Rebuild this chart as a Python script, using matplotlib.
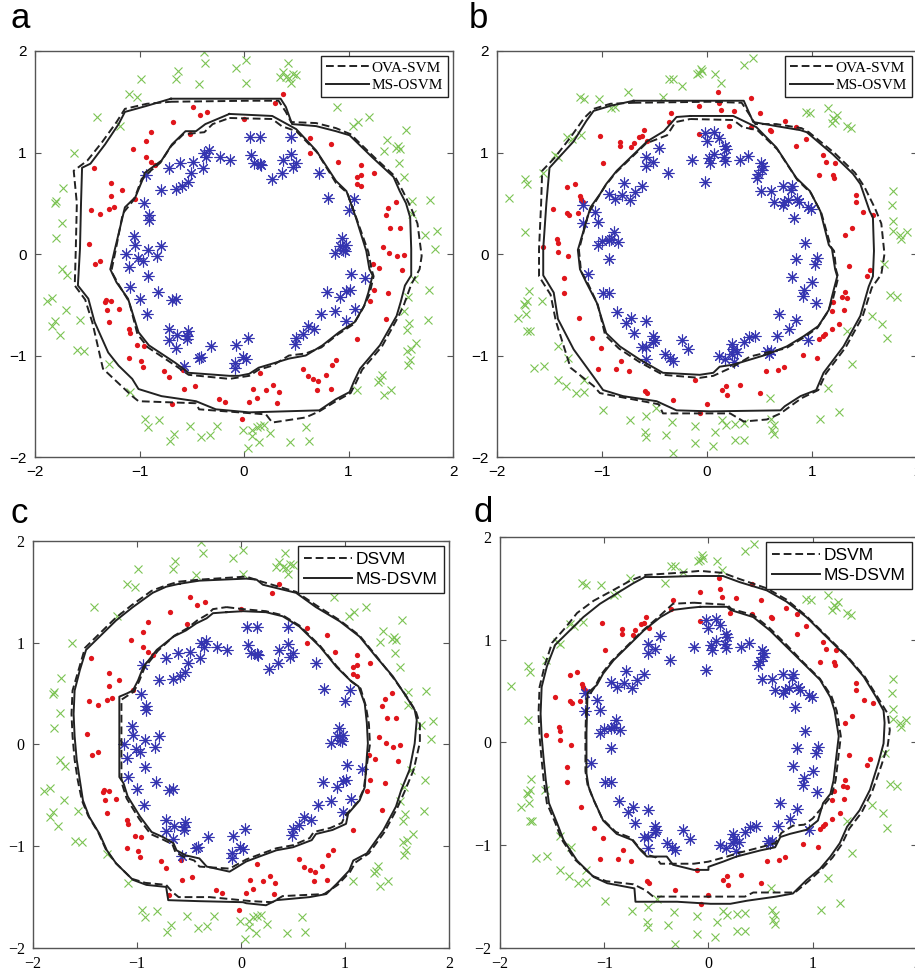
import numpy as np
import matplotlib
matplotlib.use("Agg")
import matplotlib.pyplot as plt

# ---- dataset 1 (panels a and c) ----
blue1 = [(0.06,1.15),(0.15,1.15),(0.45,1.15),(-0.38,1.0),(-0.34,1.02),(-0.36,0.96),(-0.23,0.96),(-0.13,0.93),
         (0.07,0.98),(0.15,0.89),(0.16,0.88),(0.1,0.9),(0.37,0.93),(0.45,0.99),(0.5,0.9),(0.47,0.86),(0.27,0.74),
         (0.36,0.8),(0.72,0.8),(0.8,0.55),(1.0,0.43),(1.05,0.54),(-0.61,0.9),(-0.72,0.85),(-0.49,0.91),(-0.51,0.8),
         (-0.39,0.85),(-0.54,0.71),(-0.59,0.67),(-0.65,0.64),(-0.79,0.63),(-0.94,0.78),(-0.96,0.5),(-0.91,0.38),
         (-0.91,0.34),(-1.05,0.18),(-1.04,0.09),(-1.13,0.0),(-1.01,-0.04),(-0.97,-0.07),(-0.92,0.04),(-0.83,-0.02),
         (-0.79,0.08),(-1.1,-0.13),(-0.92,-0.22),(-1.09,-0.32),(-1.0,-0.44),(-0.82,-0.37),(-0.93,-0.59),(-0.69,-0.45),
         (-0.65,-0.44),(-0.72,-0.74),(-0.72,-0.85),(-0.64,-0.8),(-0.65,-0.93),(-0.54,-0.76),(-0.55,-0.81),(-0.55,-0.84),
         (-0.57,-1.1),(-0.43,-1.02),(-0.41,-1.01),(-0.32,-0.91),(-0.08,-0.9),(-0.09,-1.07),(-0.09,-1.12),(-0.01,-1.01),
         (0.02,-1.03),(0.04,-0.83),(0.5,-0.83),(0.49,-0.89),(0.56,-0.79),(0.61,-0.71),(0.67,-0.74),(0.74,-0.59),
         (0.87,-0.56),(0.98,-0.66),(1.06,-0.54),(0.92,-0.42),(0.79,-0.37),(1.01,-0.35),(0.98,-0.36),(1.02,-0.2),
         (1.16,-0.24),(0.94,0.16),(0.87,0.01),(0.95,0.04),(0.98,0.09),(0.97,0.03),(0.92,0.08)]
red1 = [(-0.49,1.45),(-0.42,1.37),(-0.35,1.4),(-0.68,1.3),(0.0,1.33),(0.37,1.58),(0.3,1.49),(-0.89,1.2),(-0.94,1.11),
        (-1.06,1.03),(-0.94,0.96),(-0.89,0.91),(-0.85,0.88),(-0.52,1.18),(-1.44,0.85),(-1.27,0.7),(-1.27,0.57),
        (-1.17,0.63),(-1.24,0.46),(-1.29,0.44),(-1.46,0.43),(-1.38,0.39),(-1.04,0.54),(-1.48,0.1),(-1.43,-0.1),
        (-1.38,-0.07),(-1.33,-0.47),(-1.32,-0.45),(-1.27,-0.46),(-1.31,-0.55),(-1.2,-0.54),(-1.29,-0.67),(-1.1,-0.74),
        (-1.09,-0.78),(-1.02,-0.9),(-0.96,-0.91),(-1.1,-1.02),(-0.99,-1.05),(-0.97,-1.11),(-0.77,-1.15),(-0.72,-1.21),
        (-0.58,-1.14),(-0.57,-1.33),(-0.47,-1.3),(-0.69,-1.48),(-0.24,-1.43),(-0.18,-1.46),(-0.02,-1.63),(0.05,-1.46),
        (0.12,-1.42),(0.09,-1.33),(0.15,-1.17),(0.21,-1.34),(0.28,-1.29),(0.33,-1.36),(0.32,-1.47),(0.56,-1.13),
        (0.61,-1.2),(0.66,-1.23),(0.71,-1.25),(0.78,-1.19),(0.84,-1.09),(0.88,-1.04),(0.7,-1.34),(0.83,-1.33),
        (1.08,-0.84),(1.21,-0.46),(1.24,-0.35),(1.38,-0.38),(1.36,-0.64),(1.23,-0.1),(1.29,-0.14),(1.33,0.07),
        (1.39,0.01),(1.46,-0.02),(1.53,-0.01),(1.51,-0.16),(1.4,0.26),(1.49,0.26),(1.36,0.38),(1.38,0.45),(1.45,0.51),
        (1.08,0.69),(1.12,0.67),(1.12,0.78),(1.08,0.76),(1.24,0.8),(1.12,0.88),(0.9,0.91),(0.83,1.08),(0.63,1.14),
        (0.63,1.0)]
green1 = [(-0.38,1.99),(-0.37,1.88),(0.02,1.91),(-0.08,1.83),(-0.63,1.8),(-0.65,1.72),(-0.99,1.72),(-0.43,1.67),
          (0.02,1.68),(-1.1,1.58),(-1.02,1.55),(-1.41,1.35),(-1.19,1.26),(0.42,1.88),(0.37,1.79),(0.4,1.74),(0.43,1.73),
          (0.47,1.77),(0.5,1.76),(0.45,1.68),(0.34,1.74),(0.89,1.45),(1.09,1.3),(1.04,1.26),(1.2,1.35),(1.55,1.22),
          (1.37,1.12),(1.34,1.01),(1.45,1.04),(1.47,1.06),(1.49,1.03),(1.48,0.9),(1.53,0.76),(1.61,0.52),(1.78,0.53),
          (1.61,0.39),(1.73,0.19),(1.85,0.23),(1.83,0.05),(1.63,-0.25),(1.77,-0.35),(1.57,-0.42),(1.53,-0.56),
          (1.76,-0.65),(1.58,-0.68),(1.56,-0.75),(1.65,-0.88),(1.6,-0.94),(1.56,-0.96),(1.59,-1.04),(1.57,-1.09),
          (1.32,-1.19),(1.3,-1.24),(1.28,-1.26),(1.41,-1.34),(1.34,-1.39),(1.08,-1.34),(0.59,-1.7),(0.62,-1.84),
          (0.44,-1.85),(0.15,-1.69),(0.19,-1.68),(0.12,-1.7),(0.25,-1.76),(0.08,-1.73),(0.08,-1.79),(-0.01,-1.73),
          (0.14,-1.85),(0.04,-1.91),(-0.26,-1.69),(-0.33,-1.78),(-0.41,-1.8),(-0.52,-1.69),(-0.81,-1.64),(-0.95,-1.63),
          (-0.92,-1.7),(-0.67,-1.77),(-0.71,-1.84),(-1.09,-1.36),(-1.29,-1.08),(-1.6,-0.95),(-1.53,-0.96),(-1.76,-0.8),
          (-1.81,-0.66),(-1.84,-0.71),(-1.57,-0.65),(-1.7,-0.55),(-1.84,-0.43),(-1.89,-0.46),(-1.74,-0.15),(-1.69,-0.21),
          (-1.8,0.16),(-1.74,0.31),(-1.81,0.5),(-1.8,0.52),(-1.73,0.65),(-1.63,1.0)]

# ---- dataset 2 (panels b and d) ----
blue2 = [(-0.02,1.19),(0.0,1.11),(-0.02,0.71),(0.07,1.2),(0.11,1.14),(0.17,1.06),(0.18,1.03),(0.16,0.96),(0.17,0.92),
         (0.07,0.99),(0.02,0.95),(0.03,0.9),(-0.14,0.93),(0.31,0.93),(0.39,0.97),(0.51,0.9),(0.53,0.87),(0.52,0.83),
         (0.49,0.79),(0.48,0.75),(0.51,0.62),(0.61,0.62),(0.72,0.67),(0.81,0.67),(0.8,0.63),(0.64,0.51),(0.73,0.51),
         (0.77,0.53),(0.72,0.48),(0.88,0.51),(0.86,0.54),(0.96,0.46),(0.99,0.44),(0.83,0.35),(0.93,0.11),(0.85,-0.05),
         (1.05,-0.04),(1.03,-0.1),(0.81,-0.23),(1.0,-0.28),(0.92,-0.35),(0.91,-0.41),(1.04,-0.48),(0.69,-0.59),
         (0.85,-0.65),(0.78,-0.74),(0.67,-0.81),(0.61,-0.96),(0.59,-0.98),(0.57,-0.96),(0.46,-0.81),(0.4,-0.82),
         (0.35,-0.87),(0.24,-0.89),(0.25,-0.94),(0.24,-0.98),(0.29,-0.97),(0.26,-1.06),(0.11,-1.0),(0.17,-1.03),
         (0.96,-0.85),(-0.24,-0.85),(-0.18,-0.94),(-0.4,-0.98),(-0.35,-1.02),(-0.32,-1.05),(-0.58,-0.66),(-0.58,-0.92),
         (-0.58,-1.03),(-0.62,-0.92),(-0.51,-0.81),(-0.51,-0.87),(-0.5,-0.85),(-0.7,-0.78),(-0.77,-0.68),(-0.72,-0.63),
         (-0.86,-0.57),(-0.93,-0.05),(-1.13,-0.2),(-0.99,-0.38),(-0.93,-0.38),(-1.04,0.09),(-1.0,0.13),(-0.91,0.15),
         (-0.89,0.22),(-0.85,0.12),(-0.93,0.14),(-1.18,0.31),(-1.07,0.41),(-1.04,0.32),(-1.18,0.48),(-0.93,0.59),
         (-0.88,0.54),(-0.81,0.58),(-0.79,0.7),(-0.73,0.53),(-0.69,0.61),(-0.62,0.67),(-0.37,0.8),(-0.58,0.87),
         (-0.58,0.96),(-0.51,0.91),(-0.46,1.04)]
red2 = [(0.1,1.6),(0.11,1.49),(0.13,1.42),(0.26,1.41),(-0.08,1.46),(0.42,1.54),(0.5,1.39),(0.21,1.26),(0.42,1.25),
        (0.6,1.22),(0.61,1.21),(0.74,1.31),(0.85,1.25),(0.94,1.13),(0.85,1.06),(-0.34,1.39),(-0.36,1.3),(-0.6,1.22),
        (-0.62,1.16),(-0.57,1.11),(-0.65,1.15),(-0.7,1.09),(-0.72,1.05),(-0.83,1.1),(-0.83,1.06),(-0.08,1.18),
        (-1.02,1.16),(-0.99,0.9),(-1.33,0.66),(-1.26,0.69),(-1.21,0.57),(-1.2,0.54),(-1.18,0.51),(-1.47,0.44),
        (-1.33,0.4),(-1.31,0.38),(-1.23,0.4),(-1.43,0.15),(-1.42,0.11),(-1.42,0.02),(-1.32,-0.02),(-1.56,0.07),
        (-1.36,-0.24),(-1.36,-0.38),(-1.22,-0.63),(-1.1,-0.83),(-1.01,-0.93),(-0.82,-1.05),(-0.87,-1.13),(-0.74,-1.15),
        (-1.04,-1.13),(-0.59,-1.35),(-0.57,-1.37),(-0.32,-1.44),(-0.11,-1.24),(0.0,-1.48),(-0.07,-1.57),(0.14,-1.34),
        (0.18,-1.3),(0.19,-1.39),(0.31,-1.29),(0.5,-1.37),(0.56,-1.15),(0.68,-1.14),(0.73,-1.11),(0.91,-0.99),
        (1.05,-1.02),(1.07,-0.84),(1.1,-0.81),(1.12,-0.79),(1.19,-0.74),(1.26,-0.69),(1.2,-0.47),(1.19,-0.56),
        (1.31,-0.37),(1.33,-0.43),(1.3,-0.55),(1.29,-0.42),(1.35,-0.12),(1.52,-0.22),(1.55,-0.16),(1.38,0.26),
        (1.31,0.19),(1.49,0.41),(1.58,0.38),(1.42,0.58),(1.42,0.51),(1.2,0.78),(1.21,0.75),(1.07,0.78),(1.1,0.98),
        (1.13,0.91),(1.22,0.9)]
green2 = [(-0.06,1.82),(-0.08,1.78),(-0.1,1.77),(-0.05,1.8),(0.08,1.77),(0.13,1.68),(0.35,1.86),(0.44,1.93),
          (-0.36,1.72),(-0.32,1.72),(-0.24,1.66),(-0.42,1.55),(-0.75,1.6),(-1.21,1.55),(-1.17,1.53),(-1.03,1.53),
          (-0.91,1.44),(-0.88,1.45),(-1.33,1.15),(-1.29,1.13),(-1.2,1.17),(-1.45,0.98),(-1.42,0.96),(-1.56,0.8),
          (-1.73,0.74),(-1.71,0.69),(-1.89,0.55),(-1.73,0.22),(0.94,1.4),(0.98,1.39),(1.2,1.34),(1.24,1.37),
          (1.22,1.32),(1.19,1.29),(1.33,1.26),(1.37,1.24),(1.15,1.44),(1.77,0.62),(1.76,0.48),(1.77,0.33),(1.77,0.23),
          (1.84,0.19),(1.85,0.15),(1.9,0.22),(1.69,-0.1),(1.74,-0.4),(1.81,-0.42),(1.57,-0.61),(1.67,-0.69),
          (1.71,-0.83),(1.33,-0.76),(1.38,-1.08),(1.15,-1.32),(1.26,-1.56),(1.08,-1.63),(0.6,-1.42),(0.61,-1.63),
          (0.64,-1.68),(0.62,-1.73),(0.64,-1.77),(0.35,-1.66),(0.27,-1.67),(0.18,-1.68),(0.14,-1.64),(0.27,-1.83),
          (0.35,-1.83),(0.08,-1.75),(0.06,-1.89),(-0.11,-1.69),(-0.11,-1.86),(-0.33,-1.65),(-0.39,-1.78),(-0.32,-1.96),
          (-0.58,-1.6),(-0.59,-1.75),(-0.58,-1.8),(-0.73,-1.64),(-0.49,-1.52),(-0.99,-1.54),(-1.42,-1.24),(-1.34,-1.3),
          (-1.25,-1.37),(-1.17,-1.36),(-1.17,-1.24),(-1.65,-1.12),(-1.55,-1.1),(-1.42,-0.91),(-1.32,-1.02),
          (-1.71,-0.76),(-1.69,-0.76),(-1.8,-0.63),(-1.72,-0.59),(-1.74,-0.49),(-1.71,-0.46),(-1.73,-0.5),(-1.7,-0.36),
          (-1.57,-0.46)]

# ---- decision boundaries ----
a_outer = [(-0.7,1.53),(0.05,1.53),(0.35,1.53),(0.4,1.45),(0.46,1.28),(0.69,1.26),(0.88,1.21),(1.01,1.17),(1.12,1.06),
           (1.23,0.95),(1.43,0.76),(1.49,0.62),(1.55,0.5),(1.59,0.36),(1.6,0.05),(1.6,-0.21),(1.54,-0.31),(1.5,-0.47),
           (1.46,-0.61),(1.3,-0.9),(1.11,-1.13),(1.05,-1.26),(1.01,-1.36),(0.88,-1.43),(0.72,-1.54),(0.05,-1.56),
           (-0.27,-1.53),(-0.46,-1.45),(-0.79,-1.4),(-1.01,-1.33),(-1.07,-1.23),(-1.2,-1.1),(-1.3,-0.97),(-1.43,-0.67),
           (-1.49,-0.44),(-1.59,-0.31),(-1.57,0.05),(-1.56,0.5),(-1.55,0.85),(-1.47,0.89),(-1.33,1.08),(-1.2,1.28),
           (-1.14,1.4),(-0.93,1.46),(-0.7,1.53)]
a_outer_d = [(-0.7,1.5),(0.05,1.51),(0.33,1.51),(0.4,1.4),(0.45,1.3),(0.69,1.29),(0.88,1.24),(1.02,1.18),(1.13,1.07),
             (1.25,0.95),(1.44,0.77),(1.52,0.62),(1.6,0.45),(1.66,0.3),(1.7,-0.02),(1.68,-0.15),(1.6,-0.3),(1.53,-0.5),
             (1.47,-0.63),(1.32,-0.91),(1.13,-1.14),(1.07,-1.27),(1.02,-1.37),(0.88,-1.45),(0.72,-1.55),(0.59,-1.61),
             (0.27,-1.66),(0.21,-1.58),(-0.43,-1.53),(-0.46,-1.47),(-1.01,-1.45),(-1.07,-1.4),(-1.35,-1.13),
             (-1.45,-0.68),(-1.52,-0.45),(-1.62,-0.31),(-1.61,0.05),(-1.6,0.5),(-1.63,0.82),(-1.5,0.92),(-1.36,1.1),
             (-1.22,1.3),(-1.14,1.43),(-0.93,1.48),(-0.7,1.5)]
a_inner = [(-0.14,1.38),(0.27,1.36),(0.5,1.23),(0.69,1.02),(0.88,0.72),(0.98,0.62),(1.07,0.36),(1.17,0.03),(1.2,-0.15),
           (1.23,-0.21),(1.19,-0.38),(1.15,-0.51),(1.06,-0.67),(0.91,-0.77),(0.75,-0.9),(0.59,-1.0),(0.43,-1.03),
           (0.27,-1.08),(0.14,-1.12),(0.05,-1.18),(-0.05,-1.2),(-0.14,-1.2),(-0.53,-1.17),(-0.66,-1.07),(-0.91,-0.9),
           (-1.01,-0.77),(-1.11,-0.44),(-1.22,-0.28),(-1.28,-0.15),(-1.24,0.03),(-1.14,0.46),(-1.04,0.56),(-0.96,0.76),
           (-0.95,0.8),(-0.79,0.92),(-0.69,1.08),(-0.56,1.21),(-0.46,1.21),(-0.37,1.28),(-0.14,1.38)]
a_inner_d = [(-0.14,1.34),(0.27,1.33),(0.36,1.26),(0.5,1.21),(0.7,1.0),(0.88,0.7),(0.99,0.6),(1.08,0.34),(1.19,0.02),
             (1.22,-0.15),(1.24,-0.22),(1.2,-0.4),(1.14,-0.53),(1.05,-0.69),(0.9,-0.79),(0.74,-0.92),(0.59,-0.98),
             (0.43,-1.0),(0.27,-1.1),(0.14,-1.14),(0.05,-1.2),(-0.14,-1.23),(-0.53,-1.19),(-0.67,-1.09),(-0.92,-0.92),
             (-1.02,-0.79),(-1.1,-0.47),(-1.2,-0.3),(-1.27,-0.17),(-1.23,0.03),(-1.16,0.4),(-1.05,0.54),(-0.98,0.74),
             (-0.94,0.78),(-0.8,0.9),(-0.7,1.06),(-0.58,1.18),(-0.38,1.2),(-0.3,1.28),(-0.14,1.34)]

b_outer = [(-0.7,1.51),(0.03,1.51),(0.35,1.51),(0.38,1.44),(0.44,1.3),(0.66,1.26),(0.89,1.22),(0.95,1.2),(1.2,0.98),
           (1.39,0.79),(1.46,0.69),(1.55,0.42),(1.58,0.36),(1.59,0.03),(1.58,-0.22),(1.54,-0.32),(1.46,-0.61),
           (1.3,-0.91),(1.11,-1.17),(1.04,-1.34),(0.89,-1.4),(0.74,-1.5),(0.7,-1.54),(0.03,-1.55),(-0.29,-1.54),
           (-0.48,-1.45),(-0.8,-1.4),(-0.99,-1.34),(-1.08,-1.21),(-1.27,-0.94),(-1.42,-0.64),(-1.46,-0.38),
           (-1.56,-0.21),(-1.56,0.05),(-1.53,0.5),(-1.5,0.85),(-1.27,1.11),(-1.15,1.31),(-1.08,1.41),(-0.92,1.46),
           (-0.7,1.51)]
b_outer_d = [(-0.7,1.49),(0.03,1.5),(0.33,1.49),(0.4,1.38),(0.46,1.28),(0.66,1.28),(0.9,1.24),(0.97,1.2),(1.22,0.99),
             (1.41,0.8),(1.5,0.66),(1.6,0.45),(1.66,0.3),(1.69,0.0),(1.66,-0.2),(1.57,-0.33),(1.48,-0.62),(1.32,-0.92),
             (1.13,-1.18),(1.06,-1.34),(0.9,-1.42),(0.7,-1.57),(0.57,-1.63),(0.35,-1.65),(0.22,-1.57),(-0.42,-1.57),
             (-0.46,-1.48),(-1.02,-1.37),(-1.08,-1.3),(-1.3,-1.12),(-1.44,-0.66),(-1.49,-0.4),(-1.6,-0.22),(-1.6,0.05),
             (-1.58,0.5),(-1.57,0.82),(-1.45,0.95),(-1.3,1.15),(-1.17,1.34),(-1.08,1.43),(-0.92,1.48),(-0.7,1.49)]
b_inner = [(-0.16,1.36),(0.25,1.36),(0.47,1.25),(0.66,1.05),(0.85,0.75),(0.98,0.62),(1.08,0.42),(1.16,0.09),(1.19,0.05),
           (1.22,-0.15),(1.24,-0.22),(1.19,-0.42),(1.16,-0.55),(1.06,-0.71),(0.92,-0.81),(0.76,-0.91),(0.57,-0.99),
           (0.41,-1.04),(0.25,-1.09),(0.12,-1.11),(0.06,-1.17),(-0.07,-1.19),(-0.42,-1.17),(-0.64,-1.04),(-0.83,-0.91),
           (-0.96,-0.78),(-1.05,-0.48),(-1.15,-0.28),(-1.21,-0.15),(-1.23,0.04),(-1.11,0.46),(-1.02,0.59),(-0.96,0.69),
           (-0.86,0.82),(-0.7,0.98),(-0.57,1.11),(-0.41,1.21),(-0.29,1.35),(-0.16,1.36)]
b_inner_d = [(-0.16,1.33),(0.25,1.32),(0.34,1.25),(0.48,1.22),(0.67,1.03),(0.86,0.73),(0.99,0.6),(1.09,0.4),(1.18,0.07),
             (1.21,0.03),(1.23,-0.16),(1.25,-0.23),(1.2,-0.44),(1.15,-0.57),(1.05,-0.73),(0.91,-0.83),(0.75,-0.93),
             (0.57,-0.97),(0.41,-1.01),(0.25,-1.11),(0.06,-1.2),(-0.07,-1.22),(-0.42,-1.19),(-0.65,-1.06),(-0.84,-0.93),
             (-0.97,-0.8),(-1.04,-0.5),(-1.13,-0.3),(-1.2,-0.17),(-1.22,0.04),(-1.13,0.4),(-1.03,0.57),(-0.97,0.67),
             (-0.87,0.8),(-0.71,0.96),(-0.58,1.09),(-0.38,1.17),(-0.3,1.3),(-0.16,1.33)]

c_outer = [(-0.59,1.58),(-0.4,1.61),(0.05,1.63),(0.15,1.62),(0.21,1.57),(0.53,1.49),(0.72,1.35),(0.95,1.21),(1.14,1.06),
           (1.3,0.86),(1.46,0.67),(1.57,0.5),(1.67,0.34),(1.69,0.24),(1.67,0.01),(1.62,-0.25),(1.54,-0.45),(1.49,-0.61),
           (1.37,-0.84),(1.21,-1.07),(1.08,-1.14),(1.04,-1.24),(0.92,-1.37),(0.82,-1.47),(0.66,-1.5),(0.34,-1.53),
           (0.24,-1.58),(0.05,-1.56),(0.02,-1.55),(-0.4,-1.54),(-0.7,-1.53),(-0.72,-1.4),(-0.91,-1.38),(-1.04,-1.33),
           (-1.2,-1.17),(-1.29,-1.04),(-1.36,-0.88),(-1.46,-0.71),(-1.52,-0.55),(-1.55,-0.35),(-1.58,-0.15),(-1.6,0.08),
           (-1.61,0.3),(-1.6,0.53),(-1.55,0.73),(-1.49,0.93),(-1.36,1.06),(-1.2,1.22),(-1.04,1.35),(-0.85,1.49),
           (-0.72,1.55),(-0.59,1.58)]
c_outer_d = [(-0.6,1.6),(-0.4,1.62),(0.05,1.65),(0.2,1.6),(0.53,1.5),(0.72,1.37),(0.95,1.22),(1.14,1.07),(1.3,0.87),
             (1.46,0.66),(1.58,0.49),(1.68,0.33),(1.72,0.2),(1.72,0.02),(1.66,-0.25),(1.57,-0.47),(1.5,-0.63),
             (1.38,-0.86),(1.23,-1.07),(1.1,-1.16),(1.05,-1.25),(0.93,-1.38),(0.8,-1.47),(0.4,-1.49),(0.3,-1.55),
             (0.1,-1.54),(-0.3,-1.5),(-0.6,-1.5),(-0.66,-1.45),(-0.72,-1.38),(-0.92,-1.36),(-1.05,-1.32),(-1.21,-1.16),
             (-1.3,-1.03),(-1.37,-0.87),(-1.47,-0.7),(-1.53,-0.55),(-1.57,-0.35),(-1.6,-0.15),(-1.62,0.08),(-1.63,0.3),
             (-1.62,0.53),(-1.56,0.74),(-1.5,0.95),(-1.37,1.08),(-1.21,1.24),(-1.05,1.37),(-0.86,1.51),(-0.73,1.56),
             (-0.6,1.6)]
c_inner = [(-0.14,1.3),(0.02,1.31),(0.24,1.3),(0.4,1.26),(0.56,1.16),(0.76,0.96),(0.92,0.76),(1.05,0.63),(1.13,0.57),
           (1.19,0.4),(1.21,0.21),(1.22,0.01),(1.21,-0.12),(1.19,-0.42),(1.14,-0.55),(1.03,-0.68),(1.01,-0.78),
           (0.88,-0.84),(0.72,-0.88),(0.68,-0.94),(0.5,-1.01),(0.34,-1.04),(0.18,-1.1),(0.05,-1.15),(-0.11,-1.25),
           (-0.33,-1.2),(-0.4,-1.12),(-0.53,-1.09),(-0.62,-1.04),(-0.65,-0.97),(-0.75,-0.91),(-0.86,-0.86),
           (-0.97,-0.71),(-1.09,-0.51),(-1.13,-0.38),(-1.17,-0.32),(-1.17,-0.15),(-1.17,0.08),(-1.17,0.47),(-1.1,0.5),
           (-1.04,0.53),(-0.99,0.63),(-0.94,0.76),(-0.81,0.93),(-0.65,1.06),(-0.53,1.12),(-0.43,1.19),(-0.33,1.24),
           (-0.27,1.29),(-0.14,1.3)]
c_inner_d = [(-0.14,1.35),(0.02,1.33),(0.24,1.31),(0.4,1.27),(0.56,1.17),(0.76,0.97),(0.92,0.77),(1.06,0.62),
             (1.15,0.55),(1.2,0.38),(1.23,0.2),(1.24,0.0),(1.22,-0.13),(1.18,-0.44),(1.12,-0.57),(1.0,-0.7),
             (0.97,-0.77),(0.86,-0.82),(0.7,-0.86),(0.66,-0.92),(0.5,-0.99),(0.34,-1.02),(0.18,-1.08),(0.05,-1.13),
             (-0.11,-1.22),(-0.4,-1.2),(-0.45,-1.14),(-0.54,-1.11),(-0.63,-1.06),(-0.66,-0.98),(-0.76,-0.93),
             (-0.87,-0.88),(-0.98,-0.73),(-1.1,-0.53),(-1.14,-0.4),(-1.15,-0.33),(-1.15,-0.15),(-1.15,0.08),(-1.15,0.44),
             (-1.09,0.48),(-1.03,0.52),(-0.98,0.62),(-0.93,0.75),(-0.8,0.92),(-0.64,1.07),(-0.52,1.14),(-0.42,1.22),
             (-0.32,1.28),(-0.27,1.33),(-0.14,1.35)]

d_outer = [(-0.61,1.61),(-0.46,1.61),(-0.14,1.62),(0.14,1.62),(0.3,1.56),(0.56,1.48),(0.75,1.37),(0.94,1.22),
           (1.13,1.03),(1.33,0.83),(1.49,0.64),(1.61,0.44),(1.68,0.31),(1.69,0.19),(1.68,-0.01),(1.63,-0.2),
           (1.55,-0.46),(1.45,-0.66),(1.33,-0.82),(1.26,-0.98),(1.17,-1.11),(1.07,-1.23),(0.94,-1.34),(0.81,-1.47),
           (0.65,-1.5),(0.37,-1.54),(0.21,-1.57),(0.02,-1.57),(-0.3,-1.55),(-0.7,-1.55),(-0.71,-1.42),(-0.97,-1.37),
           (-1.1,-1.31),(-1.26,-1.15),(-1.39,-0.95),(-1.45,-0.79),(-1.53,-0.59),(-1.56,-0.37),(-1.58,-0.17),
           (-1.6,0.06),(-1.61,0.28),(-1.6,0.54),(-1.55,0.74),(-1.47,0.95),(-1.33,1.09),(-1.2,1.22),(-1.04,1.35),
           (-0.88,1.45),(-0.72,1.55),(-0.61,1.61)]
d_outer_d = [(-0.61,1.63),(-0.3,1.65),(-0.08,1.67),(0.14,1.65),(0.3,1.59),(0.56,1.5),(0.75,1.39),(0.94,1.23),
             (1.13,1.04),(1.33,0.84),(1.5,0.64),(1.63,0.43),(1.72,0.28),(1.74,0.12),(1.72,-0.03),(1.66,-0.22),
             (1.57,-0.48),(1.47,-0.68),(1.35,-0.84),(1.28,-0.99),(1.19,-1.12),(1.08,-1.24),(0.96,-1.35),(0.83,-1.46),
             (0.43,-1.46),(0.35,-1.5),(0.18,-1.5),(-0.53,-1.5),(-0.6,-1.44),(-0.72,-1.38),(-0.98,-1.35),(-1.11,-1.3),
             (-1.28,-1.14),(-1.41,-0.94),(-1.47,-0.78),(-1.55,-0.59),(-1.58,-0.37),(-1.6,-0.17),(-1.62,0.06),
             (-1.63,0.28),(-1.62,0.54),(-1.57,0.75),(-1.5,0.97),(-1.37,1.12),(-1.26,1.26),(-1.1,1.38),(-0.9,1.49),
             (-0.74,1.58),(-0.61,1.63)]
d_inner = [(-0.08,1.32),(0.18,1.32),(0.21,1.29),(0.43,1.22),(0.59,1.09),(0.75,0.93),(0.91,0.77),(1.07,0.61),(1.17,0.44),
           (1.21,0.31),(1.25,0.06),(1.23,-0.11),(1.2,-0.37),(1.17,-0.5),(1.1,-0.59),(1.05,-0.76),(0.94,-0.85),
           (0.78,-0.89),(0.69,-0.92),(0.64,-1.02),(0.5,-1.05),(0.27,-1.11),(0.14,-1.16),(0.0,-1.21),(0.0,-1.24),
           (-0.14,-1.24),(-0.34,-1.19),(-0.4,-1.11),(-0.59,-1.11),(-0.65,-1.05),(-0.73,-0.95),(-0.88,-0.89),
           (-1.01,-0.76),(-1.1,-0.56),(-1.15,-0.43),(-1.17,-0.3),(-1.17,-0.14),(-1.17,0.09),(-1.16,0.48),(-1.07,0.56),
           (-1.01,0.67),(-0.91,0.8),(-0.78,0.93),(-0.62,1.09),(-0.46,1.22),(-0.34,1.29),(-0.18,1.31),(-0.08,1.32)]
d_inner_d = [(-0.14,1.36),(0.18,1.34),(0.22,1.3),(0.43,1.24),(0.59,1.11),(0.75,0.95),(0.91,0.78),(1.07,0.62),
             (1.18,0.45),(1.23,0.31),(1.27,0.06),(1.25,-0.11),(1.22,-0.37),(1.18,-0.52),(1.1,-0.62),(1.0,-0.74),
             (0.92,-0.8),(0.81,-0.81),(0.7,-0.88),(0.64,-0.98),(0.5,-1.02),(0.27,-1.08),(0.18,-1.11),(0.0,-1.16),
             (-0.14,-1.18),(-0.46,-1.18),(-0.5,-1.12),(-0.6,-1.09),(-0.66,-1.03),(-0.74,-0.93),(-0.89,-0.87),
             (-1.02,-0.74),(-1.11,-0.54),(-1.16,-0.41),(-1.18,-0.28),(-1.18,-0.14),(-1.18,0.09),(-1.17,0.42),
             (-1.09,0.54),(-1.03,0.66),(-0.93,0.79),(-0.8,0.92),(-0.64,1.08),(-0.48,1.22),(-0.34,1.35),(-0.14,1.36)]

labels_ab = ["OVA-SVM", "MS-OSVM"]
labels_cd = ["DSVM", "MS-DSVM"]


def xy(pts):
    arr = np.array(pts)
    return arr[:, 0], arr[:, 1]


fig = plt.figure(figsize=(9.15, 9.77), dpi=100)


def panel(rect, letter, letter_pos, blue, red, green, curves, labels, leg_font, tick_font, tick_size):
    ax = fig.add_axes(rect)
    bx, by = xy(blue)
    rx, ry = xy(red)
    gx, gy = xy(green)
    ax.plot(gx, gy, ls='none', marker='x', ms=5.5, mew=0.8, color='#7cc353')
    ax.plot(rx, ry, ls='none', marker='o', ms=3.8, mew=0, color='#e0161c')
    ax.plot(bx, by, ls='none', marker=(8, 2, 0), ms=8.5, mew=0.8, color='#3434b0')
    outer, outer_d, inner, inner_d = curves
    x, y = xy(outer_d)
    hd, = ax.plot(x, y, color='#222222', lw=1.4, ls=(0, (4, 2)))
    x, y = xy(inner_d)
    ax.plot(x, y, color='#222222', lw=1.4, ls=(0, (4, 2)))
    x, y = xy(outer)
    hs, = ax.plot(x, y, color='#222222', lw=1.4)
    x, y = xy(inner)
    ax.plot(x, y, color='#222222', lw=1.4)
    ax.set_xlim(-2, 2)
    ax.set_ylim(-2, 2)
    ax.set_xticks([-2, -1, 0, 1, 2])
    ax.set_yticks([-2, -1, 0, 1, 2])
    ax.tick_params(direction='in', top=True, right=True, length=4, width=0.8, color='#555555', pad=6)
    for lab in ax.get_xticklabels() + ax.get_yticklabels():
        lab.set_family(tick_font)
        lab.set_fontsize(tick_size)
    for s in ax.spines.values():
        s.set_color('#555555')
        s.set_linewidth(1.0)
    leg = ax.legend([hd, hs], labels, loc='upper right', fancybox=False, framealpha=1, edgecolor='#222222',
                    prop={'family': leg_font, 'size': 11 if leg_font == 'Liberation Serif' else 12.5},
                    handlelength=2.8, handletextpad=0.2, labelspacing=0.25, borderpad=0.35, borderaxespad=0.3)
    leg.get_frame().set_linewidth(1.0)
    fig.text(letter_pos[0], letter_pos[1], letter, fontsize=25, family='Liberation Sans', va='baseline')
    return ax


panel([0.0383, 0.5322, 0.4568, 0.4156], 'a', (0.012, 0.9713), blue1, red1, green1,
      (a_outer, a_outer_d, a_inner, a_inner_d), labels_ab, 'Liberation Serif', 'Liberation Sans', 11)
panel([0.5432, 0.5322, 0.459, 0.4156], 'b', (0.512, 0.9713), blue2, red2, green2,
      (b_outer, b_outer_d, b_inner, b_inner_d), labels_ab, 'Liberation Serif', 'Liberation Sans', 11)
panel([0.0361, 0.0297, 0.4546, 0.4166], 'c', (0.012, 0.4647), blue1, red1, green1,
      (c_outer, c_outer_d, c_inner, c_inner_d), labels_cd, 'Liberation Sans', 'Liberation Serif', 11.5)
panel([0.5464, 0.0297, 0.4557, 0.4207], 'd', (0.518, 0.4657), blue2, red2, green2,
      (d_outer, d_outer_d, d_inner, d_inner_d), labels_cd, 'Liberation Sans', 'Liberation Serif', 11.5)

fig.savefig('out.png', dpi=100)
